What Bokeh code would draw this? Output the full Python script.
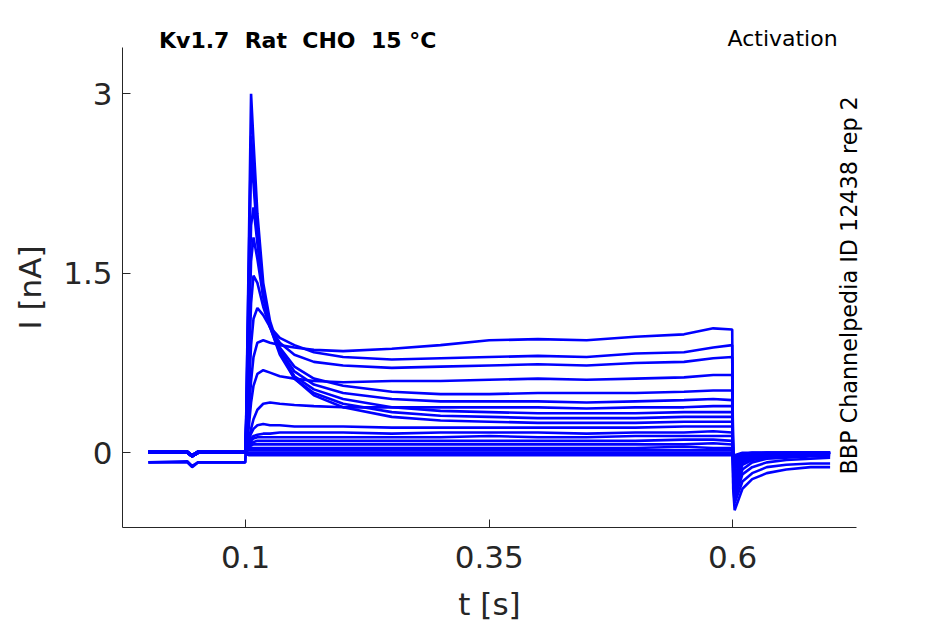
import math
from bokeh.plotting import figure
from bokeh.models import Range1d, FixedTicker, Label, NumeralTickFormatter, ColumnDataSource
from bokeh.embed import file_html
from bokeh.resources import INLINE

# ---- data ----
t_s = [0.0, 0.04, 0.045, 0.051, 0.0995, 0.1005, 0.103, 0.1055, 0.108, 0.112, 0.118, 0.125,
       0.135, 0.15, 0.17, 0.2, 0.25, 0.3, 0.35, 0.4, 0.45, 0.5, 0.55, 0.58, 0.5995,
       0.6005, 0.602, 0.61, 0.62, 0.635, 0.655, 0.68, 0.7]

sweep_01 = [-0.08, -0.08, -0.12, -0.08, -0.08, 0.05, 0.3, 0.6, 0.8, 0.92, 0.94, 0.92, 0.9, 0.88, 0.86, 0.85,
            0.87, 0.9, 0.94, 0.95, 0.94, 0.97, 0.99, 1.04, 1.03, -0.3, -0.48, -0.3, -0.22, -0.17, -0.14, -0.12, -0.12]
sweep_02 = [-0.08, -0.07, -0.11, -0.08, -0.08, 0.1, 0.45, 0.9, 1.12, 1.21, 1.15, 1.05, 0.96, 0.9, 0.84, 0.8,
            0.78, 0.79, 0.8, 0.81, 0.8, 0.83, 0.84, 0.88, 0.9, -0.25, -0.42, -0.24, -0.17, -0.12, -0.1, -0.09, -0.09]
sweep_03 = [0.0, 0.0, -0.03, 0.0, 0.0, 0.15, 0.6, 1.25, 1.48, 1.42, 1.22, 1.05, 0.92, 0.82, 0.76, 0.73,
            0.71, 0.72, 0.73, 0.74, 0.73, 0.75, 0.76, 0.79, 0.8, -0.2, -0.38, -0.18, -0.12, -0.08, -0.06, -0.05, -0.04]
sweep_04 = [0.01, 0.01, -0.02, 0.01, 0.01, 0.03, 0.2, 0.42, 0.56, 0.66, 0.69, 0.67, 0.64, 0.62, 0.6, 0.59,
            0.6, 0.6, 0.61, 0.62, 0.61, 0.62, 0.63, 0.65, 0.65, -0.16, -0.34, -0.14, -0.08, -0.05, -0.04, -0.03, -0.03]
sweep_05 = [0.0, 0.0, -0.03, 0.0, 0.0, 0.2, 0.85, 1.6, 1.8, 1.62, 1.3, 1.06, 0.88, 0.72, 0.62, 0.56,
            0.51, 0.49, 0.49, 0.5, 0.5, 0.5, 0.51, 0.52, 0.52, -0.14, -0.3, -0.1, -0.06, -0.04, -0.03, -0.02, -0.02]
sweep_06 = [0.0, 0.0, -0.02, 0.0, 0.0, 0.22, 1.0, 1.9, 2.05, 1.75, 1.32, 1.06, 0.86, 0.68, 0.57, 0.5,
            0.45, 0.43, 0.43, 0.43, 0.42, 0.43, 0.44, 0.45, 0.44, -0.12, -0.27, -0.08, -0.05, -0.03, -0.02, -0.02, -0.01]
sweep_07 = [0.01, 0.01, -0.02, 0.01, 0.01, 0.02, 0.1, 0.2, 0.28, 0.36, 0.41, 0.42, 0.41, 0.4, 0.39, 0.38,
            0.38, 0.38, 0.38, 0.38, 0.37, 0.38, 0.38, 0.39, 0.39, -0.1, -0.24, -0.07, -0.04, -0.03, -0.02, -0.01, -0.01]
sweep_08 = [0.0, 0.0, -0.03, 0.0, 0.0, 0.25, 1.3, 2.44, 2.25, 1.8, 1.32, 1.05, 0.84, 0.64, 0.53, 0.45,
            0.38, 0.35, 0.34, 0.33, 0.33, 0.33, 0.34, 0.34, 0.34, -0.09, -0.22, -0.06, -0.04, -0.02, -0.02, -0.01, 0.0]
sweep_09 = [0.0, 0.0, -0.02, 0.0, 0.0, 0.28, 1.5, 2.65, 2.35, 1.85, 1.35, 1.05, 0.82, 0.62, 0.5, 0.41,
            0.34, 0.31, 0.3, 0.29, 0.29, 0.29, 0.3, 0.3, 0.3, -0.08, -0.2, -0.05, -0.03, -0.02, -0.01, -0.01, 0.0]
sweep_10 = [0.0, 0.0, -0.03, 0.0, 0.0, 0.3, 1.6, 3.0, 2.6, 2.0, 1.42, 1.1, 0.85, 0.62, 0.48, 0.38,
            0.3, 0.27, 0.26, 0.25, 0.25, 0.25, 0.26, 0.26, 0.26, -0.07, -0.18, -0.05, -0.03, -0.02, -0.01, 0.0, 0.0]
sweep_11 = [0.01, 0.01, -0.02, 0.01, 0.01, 0.03, 0.1, 0.16, 0.2, 0.23, 0.24, 0.23, 0.23, 0.22, 0.22, 0.22,
            0.21, 0.21, 0.21, 0.21, 0.21, 0.21, 0.22, 0.22, 0.22, -0.06, -0.14, -0.04, -0.02, -0.01, -0.01, 0.0, 0.0]
sweep_12 = [0.0, 0.0, -0.03, 0.0, 0.0, 0.02, 0.08, 0.12, 0.14, 0.15, 0.16, 0.16, 0.17, 0.17, 0.17, 0.17,
            0.16, 0.17, 0.17, 0.17, 0.16, 0.17, 0.17, 0.18, 0.17, -0.05, -0.11, -0.03, -0.02, -0.01, 0.0, 0.0, 0.0]
sweep_13 = [0.01, 0.01, -0.02, 0.01, 0.01, 0.02, 0.06, 0.1, 0.12, 0.13, 0.13, 0.13, 0.13, 0.13, 0.13, 0.13,
            0.13, 0.13, 0.14, 0.13, 0.13, 0.14, 0.14, 0.14, 0.14, -0.04, -0.09, -0.03, -0.01, -0.01, 0.0, 0.0, 0.0]
sweep_14 = [0.0, 0.0, -0.03, 0.0, 0.0, 0.02, 0.05, 0.08, 0.09, 0.1, 0.1, 0.1, 0.1, 0.1, 0.1, 0.1,
            0.1, 0.1, 0.1, 0.1, 0.1, 0.1, 0.11, 0.11, 0.1, -0.03, -0.07, -0.02, -0.01, 0.0, 0.0, 0.0, 0.0]
sweep_15 = [0.0, 0.0, -0.02, 0.0, 0.0, 0.01, 0.04, 0.06, 0.07, 0.07, 0.07, 0.07, 0.07, 0.07, 0.07, 0.07,
            0.07, 0.07, 0.07, 0.07, 0.07, 0.07, 0.07, 0.08, 0.07, -0.02, -0.05, -0.02, -0.01, 0.0, 0.0, 0.0, 0.0]
sweep_16 = [0.01, 0.01, -0.02, 0.01, 0.01, 0.02, 0.03, 0.04, 0.04, 0.04, 0.04, 0.04, 0.04, 0.04, 0.04, 0.04,
            0.04, 0.04, 0.04, 0.04, 0.04, 0.04, 0.05, 0.04, 0.04, -0.02, -0.04, -0.01, 0.0, 0.0, 0.0, 0.0, 0.0]
sweep_17 = [0.0, 0.0, -0.03, 0.0, 0.0, 0.01, 0.02, 0.02, 0.02, 0.02, 0.02, 0.02, 0.02, 0.02, 0.02, 0.02,
            0.02, 0.02, 0.02, 0.02, 0.02, 0.02, 0.02, 0.02, 0.02, -0.01, -0.03, -0.01, 0.0, 0.0, 0.0, 0.0, 0.0]
sweep_18 = [0.0, 0.0, -0.02, 0.0, 0.0, 0.0, 0.0, 0.0, 0.0, 0.0, 0.0, 0.0, 0.0, 0.0, 0.0, 0.0,
            0.0, 0.0, 0.0, 0.0, 0.0, 0.0, 0.0, 0.0, 0.0, -0.01, -0.02, 0.0, 0.0, 0.0, 0.0, 0.0, 0.0]
sweep_19 = [0.0, 0.0, -0.03, 0.0, 0.0, -0.01, -0.02, -0.02, -0.02, -0.02, -0.02, -0.02, -0.02, -0.02, -0.02, -0.02,
            -0.02, -0.02, -0.02, -0.02, -0.02, -0.02, -0.02, -0.02, -0.02, -0.02, -0.03, -0.02, -0.02, -0.02, -0.02, -0.02, -0.02]

sweeps = [sweep_01, sweep_02, sweep_03, sweep_04, sweep_05, sweep_06, sweep_07, sweep_08, sweep_09, sweep_10,
          sweep_11, sweep_12, sweep_13, sweep_14, sweep_15, sweep_16, sweep_17, sweep_18, sweep_19]

x_ticks = [0.1, 0.35, 0.6]
y_ticks = [0, 1.5, 3]
x_axis_bounds = (-0.0265, 0.7276)
y_axis_bounds = (-0.6242, 3.3868)

NB = "\u00a0"
title_text = "Kv1.7" + NB + " Rat" + NB + " CHO" + NB + " 15 °C"
protocol_text = "Activation"
source_text = "BBP Channelpedia ID 12438 rep 2"
x_label = "t [s]"
y_label = "I [nA]"

# ---- figure: the frame covers the whole canvas, axes sit at fixed data positions ----
W, H = 945, 624
AX = "#262626"
FONT = "DejaVu Sans"

p = figure(width=W, height=H,
           x_range=Range1d(-0.15175, 0.81848), y_range=Range1d(-1.4348, 3.7796),
           output_backend="svg", toolbar_location=None,
           min_border=0, min_border_left=0, min_border_right=0, min_border_top=0, min_border_bottom=0)
p.title.visible = False
p.outline_line_color = None
p.grid.visible = False
p.background_fill_color = "white"
p.border_fill_color = "white"

src = ColumnDataSource(dict(xs=[t_s] * len(sweeps), ys=sweeps))
p.multi_line("xs", "ys", source=src, line_color="#0000FF", line_width=2.6)

for ax in (p.xaxis[0], p.yaxis[0]):
    ax.axis_line_color = AX
    ax.axis_line_width = 1
    ax.major_tick_line_color = AX
    ax.major_tick_in = 8
    ax.major_tick_out = 0
    ax.minor_tick_in = 0
    ax.minor_tick_out = 0
    ax.major_label_text_font = FONT
    ax.major_label_text_font_size = "31px"
    ax.major_label_text_color = AX
    ax.axis_label_text_font = FONT
    ax.axis_label_text_font_size = "31px"
    ax.axis_label_text_font_style = "normal"
    ax.axis_label_text_color = AX

p.xaxis.fixed_location = y_axis_bounds[0]
p.xaxis.bounds = x_axis_bounds
p.xaxis.ticker = FixedTicker(ticks=x_ticks)
p.xaxis.formatter = NumeralTickFormatter(format="0.[00]")
p.xaxis.major_label_standoff = 19
p.xaxis.axis_label = x_label
p.xaxis.axis_label_standoff = 14

p.yaxis.fixed_location = x_axis_bounds[0]
p.yaxis.bounds = y_axis_bounds
p.yaxis.ticker = FixedTicker(ticks=y_ticks)
p.yaxis.formatter = NumeralTickFormatter(format="0.[0]")
p.yaxis.major_label_standoff = 10
p.yaxis.axis_label = y_label
p.yaxis.axis_label_standoff = 12

# texts outside the axes box (screen units from the canvas bottom-left)
p.add_layout(Label(x=158.5, y=H - 39.5, x_units="screen", y_units="screen", text=title_text,
                   text_align="left", text_baseline="alphabetic", text_font=FONT,
                   text_font_size="22px", text_font_style="bold", text_color="black"))
p.add_layout(Label(x=727, y=H - 38, x_units="screen", y_units="screen", text=protocol_text,
                   text_align="left", text_baseline="alphabetic", text_font=FONT,
                   text_font_size="22px", text_color="black"))
p.add_layout(Label(x=848, y=H - 474, x_units="screen", y_units="screen", text=source_text,
                   angle=math.pi / 2, text_align="left", text_baseline="alphabetic", text_font=FONT,
                   text_font_size="22.3px", text_color="black"))

open("out.html", "w").write(file_html(p, INLINE))
